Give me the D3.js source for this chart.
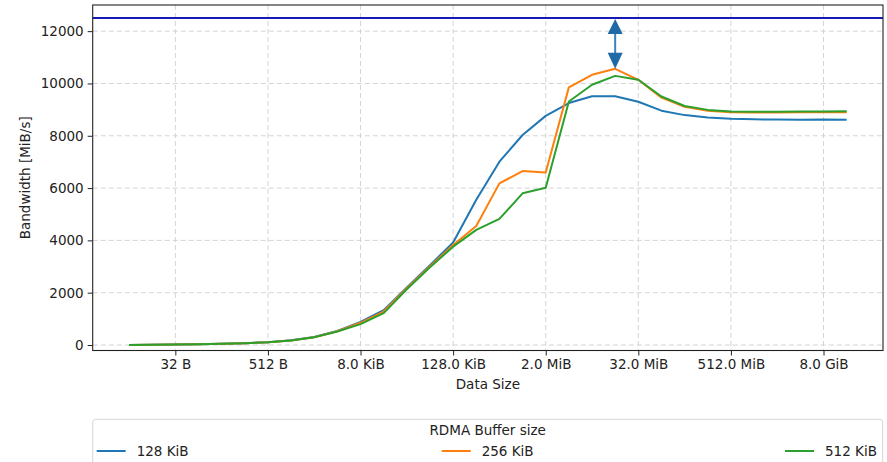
<!DOCTYPE html>
<html>
<head>
<meta charset="utf-8">
<script src="https://cdn.jsdelivr.net/npm/d3@7"></script>
<style>
  body { margin: 0; background: #fff; }
  svg { font-family: "DejaVu Sans", sans-serif; }
</style>
</head>
<body>
<div id="chart"></div>
<script>
// DATA
// ----------------------------------------
// data sizes are powers of two: 2^3 B (8 B) .. 2^34 B (16 GiB)
const SIZE_EXPONENTS = d3.range(3, 35);
const BW_128K = [5, 9, 18, 30, 45, 70, 110, 180, 310, 540, 880, 1330, 2200, 3050, 3920, 5550,
    7010, 8030, 8760, 9250, 9510, 9510, 9300, 8960, 8790, 8700, 8650, 8630, 8620, 8610, 8620, 8610];
const BW_256K = [5, 9, 18, 30, 45, 70, 108, 175, 300, 525, 850, 1280, 2170, 3010, 3820, 4550,
    6180, 6650, 6600, 9850, 10330, 10560, 10140, 9460, 9110, 8960, 8900, 8890, 8890, 8900, 8900, 8900];
const BW_512K = [5, 9, 18, 30, 45, 70, 105, 170, 295, 515, 800, 1220, 2130, 2970, 3760, 4400,
    4820, 5800, 6010, 9310, 9950, 10290, 10140, 9500, 9140, 8990, 8930, 8920, 8920, 8930, 8930, 8940];
const SERIES_NAMES = ["128 KiB", "256 KiB", "512 KiB"];
const LINK_LIMIT = 12500;          // horizontal line (link bandwidth)
const GAP_AT_EXP = 24;             // arrow from peak to link limit at 16 MiB

const X_TICK_EXPONENTS = [5, 9, 13, 17, 21, 25, 29, 33];
const X_TICK_LABELS = ["32 B", "512 B", "8.0 KiB", "128.0 KiB", "2.0 MiB", "32.0 MiB", "512.0 MiB", "8.0 GiB"];
const Y_TICKS = [0, 2000, 4000, 6000, 8000, 10000, 12000];

// STYLE
// ----------------------------------------
const COLORS = ["#1f77b4", "#ff7f0e", "#2ca02c"];
const WIDTH = 887, HEIGHT = 462;
const PLOT = { left: 92.7, right: 883, top: 5, bottom: 350.5 };
const FONT_SIZE = 13.5;

// MAIN
// ----------------------------------------
function drawChart() {
    const svg = d3.select("#chart").append("svg")
        .attr("width", WIDTH)
        .attr("height", HEIGHT);

    const x = d3.scaleLog().base(2)
        .domain([Math.pow(2, 1.43), Math.pow(2, 35.57)])
        .range([PLOT.left, PLOT.right]);
    const y = d3.scaleLinear()
        .domain([-210, 13000])
        .range([PLOT.bottom, PLOT.top]);

    const plotW = PLOT.right - PLOT.left;
    const plotH = PLOT.bottom - PLOT.top;

    // Grid
    const grid = svg.append("g").attr("stroke", "#d4d4d4").attr("stroke-dasharray", "5,3");
    grid.selectAll(".gx").data(X_TICK_EXPONENTS).enter().append("line")
        .attr("x1", e => x(Math.pow(2, e))).attr("x2", e => x(Math.pow(2, e)))
        .attr("y1", PLOT.top).attr("y2", PLOT.bottom);
    grid.selectAll(".gy").data(Y_TICKS).enter().append("line")
        .attr("x1", PLOT.left).attr("x2", PLOT.right)
        .attr("y1", d => y(d)).attr("y2", d => y(d));

    // Series
    const allSeries = [BW_128K, BW_256K, BW_512K];
    const line = d3.line()
        .x((d, i) => x(Math.pow(2, SIZE_EXPONENTS[i])))
        .y(d => y(d));
    allSeries.forEach((values, i) => {
        svg.append("path")
            .datum(values)
            .attr("fill", "none")
            .attr("stroke", COLORS[i])
            .attr("stroke-width", 2)
            .attr("stroke-linejoin", "round")
            .attr("d", line);
    });

    // Link limit line
    svg.append("line")
        .attr("x1", PLOT.left).attr("x2", PLOT.right)
        .attr("y1", y(LINK_LIMIT)).attr("y2", y(LINK_LIMIT))
        .attr("stroke", "#1818b4").attr("stroke-width", 2);

    // Double arrow between peak and limit
    const peak = BW_256K[SIZE_EXPONENTS.indexOf(GAP_AT_EXP)];
    const ax = x(Math.pow(2, GAP_AT_EXP));
    const yTop = y(LINK_LIMIT), yBot = y(peak);
    const headL = 16, headW = 7.5;
    const arrowColor = "#1f6aa6";
    svg.append("line")
        .attr("x1", ax).attr("x2", ax)
        .attr("y1", yTop + headL - 1).attr("y2", yBot - headL + 1)
        .attr("stroke", "#3b82bf").attr("stroke-width", 2);
    svg.append("path")
        .attr("d", `M${ax},${yTop + 1}L${ax - headW},${yTop + headL}L${ax + headW},${yTop + headL}Z`)
        .attr("fill", arrowColor);
    svg.append("path")
        .attr("d", `M${ax},${yBot}L${ax - headW},${yBot - headL}L${ax + headW},${yBot - headL}Z`)
        .attr("fill", arrowColor);

    // Axes
    const xAxis = d3.axisBottom(x)
        .tickValues(X_TICK_EXPONENTS.map(e => Math.pow(2, e)))
        .tickFormat((d, i) => X_TICK_LABELS[i])
        .tickSize(5).tickPadding(4);
    const yAxis = d3.axisLeft(y)
        .tickValues(Y_TICKS)
        .tickFormat(d3.format("d"))
        .tickSize(5).tickPadding(4);

    svg.append("g")
        .attr("transform", `translate(0,${PLOT.bottom})`)
        .call(xAxis)
        .call(g => g.select(".domain").remove());
    svg.append("g")
        .attr("transform", `translate(${PLOT.left},0)`)
        .call(yAxis)
        .call(g => g.select(".domain").remove());
    svg.selectAll(".tick text")
        .attr("font-size", FONT_SIZE)
        .attr("font-family", "DejaVu Sans")
        .attr("fill", "#222");
    svg.selectAll(".tick line").attr("stroke", "#222");

    // Frame
    svg.append("rect")
        .attr("x", PLOT.left).attr("y", PLOT.top)
        .attr("width", plotW).attr("height", plotH)
        .attr("fill", "none").attr("stroke", "#222").attr("stroke-width", 1.1);

    // Axis labels
    svg.append("text")
        .attr("x", (PLOT.left + PLOT.right) / 2).attr("y", 389)
        .attr("text-anchor", "middle").attr("font-size", FONT_SIZE).attr("fill", "#222")
        .text("Data Size");
    svg.append("text")
        .attr("transform", `translate(30,${(PLOT.top + PLOT.bottom) / 2}) rotate(-90)`)
        .attr("text-anchor", "middle").attr("font-size", FONT_SIZE).attr("fill", "#222")
        .text("Bandwidth [MiB/s]");

    drawLegend(svg);
}

// HELPER FUNCTIONS
// ----------------------------------------
function drawLegend(svg) {
    const box = { left: 92.7, right: 882.7, top: 419.3 };
    svg.append("rect")
        .attr("x", box.left).attr("y", box.top)
        .attr("width", box.right - box.left).attr("height", 80)
        .attr("rx", 3)
        .attr("fill", "#fff").attr("stroke", "#d6d6d6").attr("stroke-width", 1);

    svg.append("text")
        .attr("x", (box.left + box.right) / 2).attr("y", 435)
        .attr("text-anchor", "middle").attr("font-size", FONT_SIZE).attr("fill", "#222")
        .text("RDMA Buffer size");

    const entryX = [96.7, 441.7, 785];
    SERIES_NAMES.forEach((name, i) => {
        svg.append("line")
            .attr("x1", entryX[i]).attr("x2", entryX[i] + 29)
            .attr("y1", 451).attr("y2", 451)
            .attr("stroke", COLORS[i]).attr("stroke-width", 2);
        svg.append("text")
            .attr("x", entryX[i] + 40).attr("y", 455.5)
            .attr("font-size", FONT_SIZE).attr("fill", "#222")
            .text(name);
    });
}

// INIT
// ----------------------------------------
drawChart();
</script>
</body>
</html>
